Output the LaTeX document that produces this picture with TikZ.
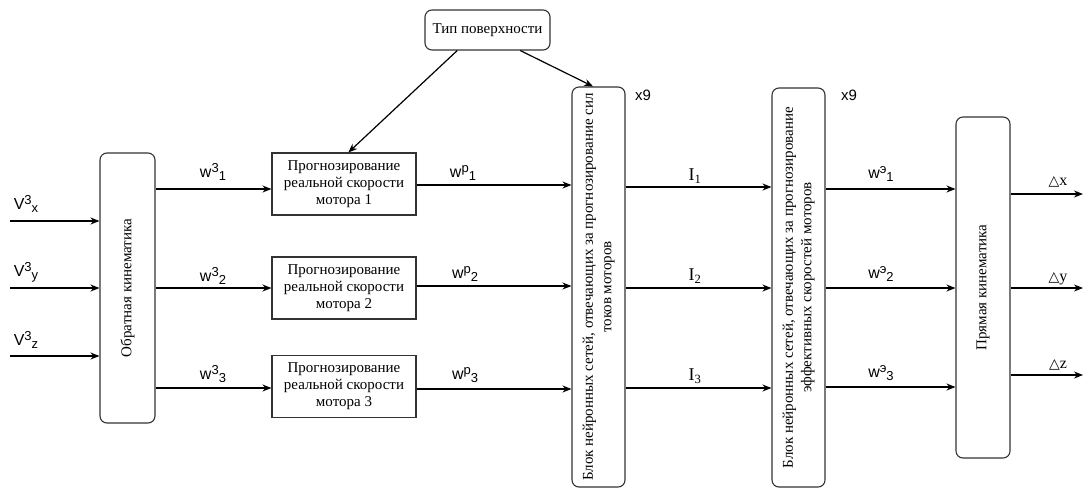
\documentclass[tikz,border=0pt]{standalone}
\usepackage{fontspec}
\setmainfont{Liberation Serif}
\newfontfamily\lsans{Liberation Sans}
\newfontfamily\dvsans{DejaVu Sans}
\usetikzlibrary{arrows.meta,calc}
\newcommand{\lbl}[3]{{\lsans #1\raisebox{0.55ex}{\fontsize{13}{13}\selectfont #2}\raisebox{-0.35ex}{\fontsize{13}{13}\selectfont #3}}}
\begin{document}
\begin{tikzpicture}[x=1pt,y=-1pt,
  box/.style={draw=black!80,line width=1.1pt,inner sep=0pt},
  rbox/.style={box,rounded corners=7pt},
  btext/.style={font=\fontsize{15}{17}\selectfont,align=center,inner sep=0pt},
  vtext/.style={btext,font=\fontsize{15}{18.5}\selectfont,rotate=90},
  arr/.style={line width=1.2pt,-{Stealth[length=9pt,width=7pt]}},
  lab/.style={inner sep=0pt,font=\fontsize{16}{16}\selectfont}]
\useasboundingbox[fill=white] (0,0) rectangle (1083,488);

% boxes
\node[rbox,minimum width=125pt,minimum height=40pt] (tip) at (487.5,30) {};
\node[btext] at (tip.center) {Тип поверхности};
\node[rbox,minimum width=55pt,minimum height=270pt] (ok) at (127.5,288) {};
\node[vtext] at (ok.center) {Обратная кинематика};
\node[box,minimum width=144pt,minimum height=62pt] (m1) at (344,184) {};
\node[btext] at (m1.center) {Прогнозирование\\реальной скорости\\мотора 1};
\node[box,minimum width=144pt,minimum height=62pt] (m2) at (344,288) {};
\node[btext] at (m2.center) {Прогнозирование\\реальной скорости\\мотора 2};
\node[box,minimum width=144pt,minimum height=62pt] (m3) at (344,386.5) {};
\node[btext] at (m3.center) {Прогнозирование\\реальной скорости\\мотора 3};
\node[rbox,minimum width=53pt,minimum height=400pt] (nb1) at (598.5,287) {};
\node[vtext] at (nb1.center) {Блок нейронных сетей, отвечающих за прогнозирование сил\\токов моторов};
\node[rbox,minimum width=53pt,minimum height=399pt] (nb2) at (798.5,287.5) {};
\node[vtext] at (nb2.center) {Блок нейронных сетей, отвечающих за прогнозирование\\эффективных скоростей моторов};
\node[rbox,minimum width=54pt,minimum height=341pt] (pk) at (983,287.5) {};
\node[vtext] at (pk.center) {Прямая кинематика};

\node[lab,font=\fontsize{15}{15}\selectfont] (x9a) at (643,95) {\lsans x9};
\node[lab,font=\fontsize{15}{15}\selectfont] (x9b) at (849,95) {\lsans x9};

% surface arrows
\draw[arr] ($(tip.south west)!0.26!(tip.south east)$) -- ($(m1.north west)!0.53!(m1.north east)$);
\draw[arr] ($(tip.south west)!0.76!(tip.south east)$) -- ($(nb1.north west)!0.4!(nb1.north east)$);

% inputs
\coordinate (vx) at (10,221);
\coordinate (vy) at (10,288);
\coordinate (vz) at (10,356);
\draw[arr] (vx) -- (ok.west |- vx);
\draw[arr] (vy) -- (ok.west |- vy);
\draw[arr] (vz) -- (ok.west |- vz);
\node[lab] at (26,204) {\lbl{V}{3}{x}};
\node[lab] at (26,272) {\lbl{V}{3}{y}};
\node[lab] at (26,340) {\lbl{V}{3}{z}};

% ok -> motors
\draw[arr] (ok.east |- 0,189) -- (m1.west |- 0,189);
\draw[arr] (ok.east |- m2) -- (m2.west);
\draw[arr] (ok.east |- 0,388) -- (m3.west |- 0,388);
\node[lab] at (213,172) {\lbl{w}{3}{1}};
\node[lab] at (213,276) {\lbl{w}{3}{2}};
\node[lab] at (213,374) {\lbl{w}{3}{3}};

% motors -> nb1
\draw[arr] (m1.east |- 0,185) -- (nb1.west |- 0,185);
\draw[arr] (m2.east |- 0,286) -- (nb1.west |- 0,286);
\draw[arr] (m3.east |- 0,389) -- (nb1.west |- 0,389);
\node[lab] at (463,173) {\lbl{w}{p}{1}};
\node[lab] at (465,274) {\lbl{w}{p}{2}};
\node[lab] at (465,375) {\lbl{w}{p}{3}};

% nb1 -> nb2
\draw[arr] (nb1.east |- 0,187) -- (nb2.west |- 0,187);
\draw[arr] (nb1.east |- 0,288) -- (nb2.west |- 0,288);
\draw[arr] (nb1.east |- 0,388) -- (nb2.west |- 0,388);
\node[lab,font=\fontsize{18}{18}\selectfont] at (695,176) {I$_{\mathrm{1}}$};
\node[lab,font=\fontsize{18}{18}\selectfont] at (695,276) {I$_{\mathrm{2}}$};
\node[lab,font=\fontsize{18}{18}\selectfont] at (695,376) {I$_{\mathrm{3}}$};

% nb2 -> pk
\draw[arr] (nb2.east |- 0,189) -- (pk.west |- 0,189);
\draw[arr] (nb2.east |- 0,288) -- (pk.west |- 0,288);
\draw[arr] (nb2.east |- 0,387) -- (pk.west |- 0,387);
\node[lab] at (881,174) {\lbl{w}{э}{1}};
\node[lab] at (881,274) {\lbl{w}{э}{2}};
\node[lab] at (881,373) {\lbl{w}{э}{3}};

% outputs
\coordinate (dx) at (1083,194);
\coordinate (dy) at (1083,288);
\coordinate (dz) at (1083,375);
\draw[arr] (pk.east |- dx) -- (dx);
\draw[arr] (pk.east |- dy) -- (dy);
\draw[arr] (pk.east |- dz) -- (dz);
\node[lab] at (1058,182) {{\dvsans\fontsize{14}{14}\selectfont △}x};
\node[lab] at (1058,279) {{\dvsans\fontsize{14}{14}\selectfont △}y};
\node[lab] at (1058,365) {{\dvsans\fontsize{14}{14}\selectfont △}z};
\end{tikzpicture}
\end{document}
